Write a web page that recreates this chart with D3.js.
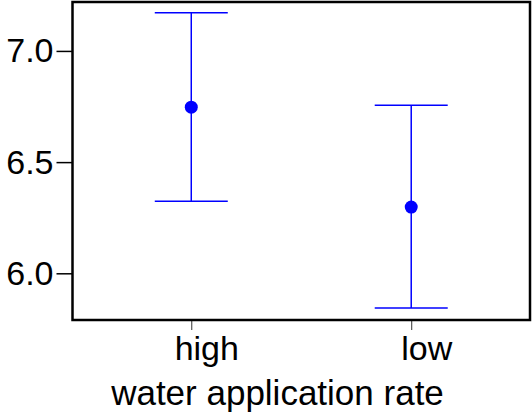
<!DOCTYPE html>
<html>
<head>
<meta charset="utf-8">
<script src="https://cdn.jsdelivr.net/npm/d3@7"></script>
<style>
  html, body { margin: 0; padding: 0; background: #fff; }
  svg { display: block; }
  text { font-family: "Liberation Sans", Arial, Helvetica, sans-serif; fill: #000; }
</style>
</head>
<body>
<svg id="chart" width="532" height="416"></svg>
<script>
const categories = ["high", "low"];
const means = [6.747, 6.298];
const upper = [7.172, 6.756];
const lower = [6.324, 5.844];
const yTicks = [6.0, 6.5, 7.0];
const xTitle = "water application rate";

(function () {
const svg = d3.select("#chart");
const pLeft = 72.5, pRight = 530, pTop = 2, pBottom = 320;

const x = d3.scalePoint().domain(categories).range([pLeft, pRight]).padding(0.54);
const y = d3.scaleLinear().domain([5.79, 7.22]).range([pBottom, pTop]);

// y axis ticks + labels
const yAxis = d3.axisLeft(y).tickValues(yTicks).tickFormat(d3.format(".1f")).tickSize(16).tickPadding(3);
const gy = svg.append("g").attr("transform", `translate(${pLeft},0)`).call(yAxis);
gy.select(".domain").remove();
gy.selectAll(".tick line").attr("stroke", "#000").attr("stroke-width", 1.5);
gy.selectAll(".tick text").attr("font-size", 34).attr("font-family", "Liberation Sans, Arial, sans-serif");

// x axis ticks + labels
const xAxis = d3.axisBottom(x).tickSize(10).tickPadding(6);
const gx = svg.append("g").attr("transform", `translate(0,${pBottom})`).call(xAxis);
gx.select(".domain").remove();
gx.selectAll(".tick line").attr("stroke", "#333").attr("stroke-width", 1);
gx.selectAll(".tick text").attr("font-size", 34).attr("dx", 15).attr("font-family", "Liberation Sans, Arial, sans-serif");

// frame
svg.append("rect")
  .attr("x", pLeft).attr("y", pTop)
  .attr("width", pRight - pLeft).attr("height", pBottom - pTop)
  .attr("fill", "none").attr("stroke", "#000").attr("stroke-width", 2.5);

// error bars
const blue = "#0000ff";
const capHalf = 36.5;
const data = categories.map((c, i) => ({c, m: means[i], hi: upper[i], lo: lower[i]}));
const g = svg.append("g");
g.selectAll("line.stem").data(data).join("line").attr("class", "stem")
  .attr("x1", d => x(d.c)).attr("x2", d => x(d.c))
  .attr("y1", d => y(d.hi)).attr("y2", d => y(d.lo))
  .attr("stroke", blue).attr("stroke-width", 1.5);
g.selectAll("line.capHi").data(data).join("line").attr("class", "capHi")
  .attr("x1", d => x(d.c) - capHalf).attr("x2", d => x(d.c) + capHalf)
  .attr("y1", d => y(d.hi)).attr("y2", d => y(d.hi))
  .attr("stroke", blue).attr("stroke-width", 1.5);
g.selectAll("line.capLo").data(data).join("line").attr("class", "capLo")
  .attr("x1", d => x(d.c) - capHalf).attr("x2", d => x(d.c) + capHalf)
  .attr("y1", d => y(d.lo)).attr("y2", d => y(d.lo))
  .attr("stroke", blue).attr("stroke-width", 1.5);
g.selectAll("circle").data(data).join("circle")
  .attr("cx", d => x(d.c)).attr("cy", d => y(d.m))
  .attr("r", 6.5).attr("fill", blue);

// x title
svg.append("text")
  .attr("x", 277.5).attr("y", 405)
  .attr("text-anchor", "middle")
  .attr("font-size", 35)
  .text(xTitle);
})();
</script>
</body>
</html>
